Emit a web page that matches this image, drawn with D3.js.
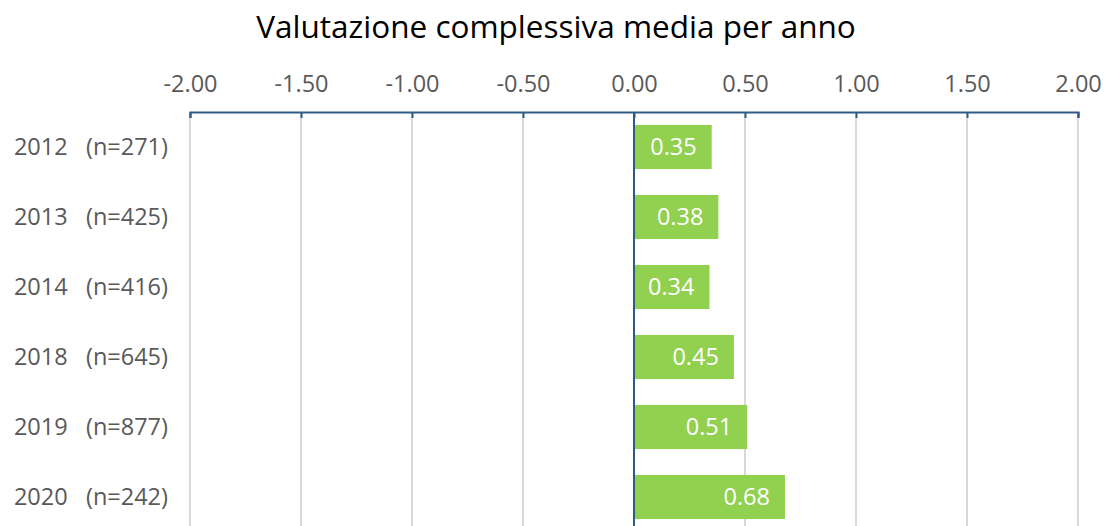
<!DOCTYPE html>
<html>
<head>
<meta charset="utf-8">
<script src="https://cdn.jsdelivr.net/npm/d3@7"></script>
<style>
body { margin: 0; background: #fff; }
svg { display: block; font-family: "Open Sans", "Liberation Sans", sans-serif; }
</style>
</head>
<body>
<script>
//average overall rating per year

var years = ["2012", "2013", "2014", "2018", "2019", "2020"];
var counts = [271, 425, 416, 645, 877, 242];
var values = [0.35, 0.38, 0.34, 0.45, 0.51, 0.68];
var tickValues = [-2, -1.5, -1, -0.5, 0, 0.5, 1, 1.5, 2];

var width = 1107,
    height = 526;

var svg = d3.select("body")
    .append("svg")
    .attr("width", width)
    .attr("height", height);

var x = d3.scaleLinear()
    .domain([-2, 2])
    .range([190, 1078]);

var y = d3.scaleBand()
    .domain(years)
    .range([112, 532])
    .paddingInner(0.37)
    .paddingOuter(0.185);

//plain hyphen for negatives, like the original
var fmt = function(d){ return d.toFixed(2); };

//title
svg.append("text")
    .attr("x", 556)
    .attr("y", 38)
    .attr("text-anchor", "middle")
    .style("font-size", "31.5px")
    .style("fill", "#000")
    .text("Valutazione complessiva media per anno");

//gridlines
svg.selectAll(".grid")
    .data(tickValues.filter(function(d){ return d != 0; }))
    .enter()
    .append("line")
    .attr("class", "grid")
    .attr("x1", function(d){ return x(d); })
    .attr("x2", function(d){ return x(d); })
    .attr("y1", 112)
    .attr("y2", height)
    .style("stroke", "#d9d9d9")
    .style("stroke-width", 2);

//bars
var rows = years.map(function(d, i){
    return { year: d, n: counts[i], value: values[i] };
});

svg.selectAll(".bar")
    .data(rows)
    .enter()
    .append("rect")
    .attr("class", "bar")
    .attr("x", x(0))
    .attr("y", function(d){ return y(d.year); })
    .attr("width", function(d){ return x(d.value) - x(0); })
    .attr("height", y.bandwidth())
    .style("fill", "#92d050");

svg.selectAll(".val")
    .data(rows)
    .enter()
    .append("text")
    .attr("class", "val")
    .attr("x", function(d){ return x(d.value) - 15; })
    .attr("y", function(d){ return y(d.year) + y.bandwidth() / 2; })
    .attr("dy", "0.36em")
    .attr("text-anchor", "end")
    .style("font-size", "23.5px")
    .style("fill", "#fff")
    .text(function(d){ return fmt(d.value); });

//zero line
svg.append("line")
    .attr("x1", x(0))
    .attr("x2", x(0))
    .attr("y1", 112)
    .attr("y2", height)
    .style("stroke", "#2e5a87")
    .style("stroke-width", 2);

//top axis
var axis = svg.append("g")
    .attr("transform", "translate(0,112)")
    .call(d3.axisTop(x)
        .tickValues(tickValues)
        .tickFormat(fmt)
        .tickSize(-6)
        .tickSizeOuter(-6)
        .tickPadding(20));

axis.select(".domain")
    .style("stroke", "#2e5a87")
    .style("stroke-width", 2);
axis.selectAll(".tick line")
    .style("stroke", "#2e5a87")
    .style("stroke-width", 2);
axis.selectAll(".tick text")
    .style("font-size", "23.5px")
    .style("font-family", "'Open Sans', sans-serif")
    .style("fill", "#595959")
    .attr("y", -20);

//category labels
svg.selectAll(".cat")
    .data(rows)
    .enter()
    .append("text")
    .attr("class", "cat")
    .attr("x", 168)
    .attr("y", function(d){ return y(d.year) + y.bandwidth() / 2; })
    .attr("dy", "0.36em")
    .attr("text-anchor", "end")
    .style("font-size", "23.5px")
    .style("fill", "#595959")
    .style("white-space", "pre")
    .text(function(d){ return d.year + "   (n=" + d.n + ")"; });
</script>
</body>
</html>
